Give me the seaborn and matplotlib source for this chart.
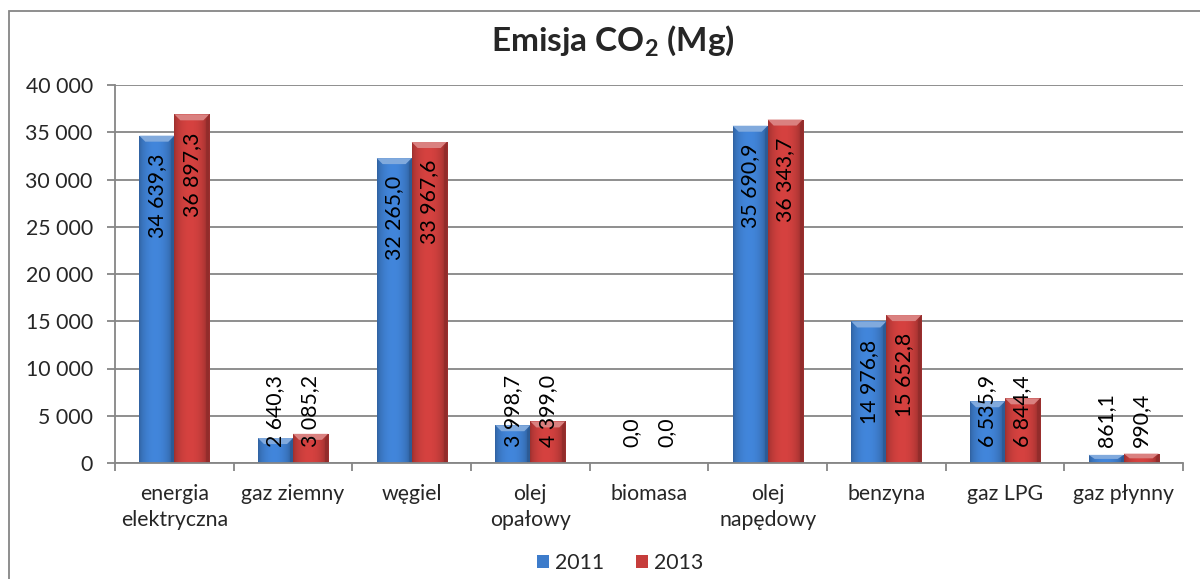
import numpy as np
import pandas as pd
import matplotlib
matplotlib.use("Agg")
import matplotlib.pyplot as plt
import seaborn as sns
from matplotlib.patches import Polygon, Rectangle
from matplotlib.ticker import FuncFormatter, MultipleLocator
from matplotlib.colors import to_rgb

categories = ["energia\nelektryczna", "gaz ziemny", "węgiel", "olej\nopałowy", "biomasa",
              "olej\nnapędowy", "benzyna", "gaz LPG", "gaz płynny"]
values_2011 = [34639.3, 2640.3, 32265.0, 3998.7, 0.0, 35690.9, 14976.8, 6535.9, 861.1]
values_2013 = [36897.3, 3085.2, 33967.6, 4399.0, 0.0, 36343.7, 15652.8, 6844.4, 990.4]
series = ["2011", "2013"]
title = "Emisja CO$_\\mathregular{2}$ (Mg)"

sns.set_theme(style="white")
plt.rcParams["font.family"] = ["Lato", "DejaVu Sans"]
plt.rcParams["mathtext.default"] = "regular"

df = pd.DataFrame({
    "kategoria": categories * 2,
    "wartosc": values_2011 + values_2013,
    "rok": [series[0]] * len(categories) + [series[1]] * len(categories),
})

colors = {"2011": "#3D7CCB", "2013": "#C63D3B"}
grey = "#868686"
FS = 15.3

fig = plt.figure(figsize=(12, 5.79), dpi=100)
ax = fig.add_axes([115 / 1200, 1 - 463 / 579, (1183 - 115) / 1200, (463 - 85) / 579])

sns.barplot(data=df, x="kategoria", y="wartosc", hue="rok", palette=colors,
            width=0.59, gap=0, ax=ax, saturation=1, edgecolor="none", linewidth=0)

ax.set_ylim(0, 40000)
ax.set_xlim(-0.5, len(categories) - 0.5)
ax.yaxis.set_major_locator(MultipleLocator(5000))
ax.yaxis.set_major_formatter(FuncFormatter(lambda v, p: f"{int(v):,}".replace(",", " ")))
ax.set_xlabel("")
ax.set_ylabel("")
ax.set_axisbelow(True)
ax.grid(axis="y", color=grey, linewidth=1.3)
ax.grid(axis="x", visible=False)
for s in ["top", "right"]:
    ax.spines[s].set_visible(False)
for s in ["left", "bottom"]:
    ax.spines[s].set_color(grey)
    ax.spines[s].set_linewidth(1.3)
ax.set_xticks(np.arange(-0.5, len(categories), 1.0), minor=True)
ax.tick_params(axis="x", which="minor", length=6, width=1.3, color=grey, direction="out", bottom=True)
ax.tick_params(axis="x", which="major", length=0, pad=15, labelsize=FS)
ax.tick_params(axis="y", which="major", length=6, width=1.3, color=grey, direction="out",
               left=True, pad=10, labelsize=FS)
for lab in ax.get_xticklabels():
    lab.set_linespacing(1.4)
    lab.set_verticalalignment("top")

# legend
handles, labels = ax.get_legend_handles_labels()
if ax.get_legend() is not None:
    ax.get_legend().remove()
fig.legend(handles, labels, loc="center", bbox_to_anchor=(620 / 1200, 1 - 563 / 579),
           ncol=2, frameon=False, fontsize=FS, handlelength=0.55, handleheight=0.55,
           handletextpad=0.3, columnspacing=1.5)

# title
fig.text(613 / 1200, 1 - 41 / 579, title, ha="center", va="center",
         fontsize=24, fontweight="bold")

# chart border
fig.patches.append(Rectangle((9 / 1200, -0.05), 1.1, 1 - 11 / 579 + 0.05,
                             transform=fig.transFigure, fill=False,
                             edgecolor=grey, linewidth=1.3, clip_on=False))

# bevel shading for bars
fig.canvas.draw()
inv = ax.transData.inverted()
def px_to_data(dx, dy):
    p0 = inv.transform((0, 0))
    p1 = inv.transform((dx, dy))
    return p1[0] - p0[0], p1[1] - p0[1]

bdx, bdy = px_to_data(6, 6)
t = np.linspace(0, 1, 64)
shade = 0.78 + 0.30 * np.sin(np.pi * np.clip(t * 1.1, 0, 1)) ** 0.6
for container, key in zip(ax.containers, series):
    base = np.array(to_rgb(colors[key]))
    grad = np.clip(base[None, :] * shade[:, None], 0, 1)[None, :, :]
    light = np.clip(base + (1 - base) * 0.35, 0, 1)
    dark = base * 0.7
    for bar in container:
        h = bar.get_height()
        if h <= 0:
            continue
        x, w = bar.get_x(), bar.get_width()
        im = ax.imshow(grad, extent=[x, x + w, 0, h], aspect="auto", zorder=2.1,
                       interpolation="bilinear")
        im.set_clip_path(bar)
        dy = min(bdy, h / 2)
        dx = min(bdx, w / 2)
        ax.add_patch(Polygon([(x, h), (x + w, h), (x + w - dx, h - dy), (x + dx, h - dy)],
                             closed=True, facecolor=light, edgecolor="none", zorder=2.2))
        ax.add_patch(Polygon([(x + w, h), (x + w, 0), (x + w - dx * 0.5, 0), (x + w - dx * 0.5, h - dy)],
                             closed=True, facecolor=dark, edgecolor="none", zorder=2.2, alpha=0.5))
ax.set_xlim(-0.5, len(categories) - 0.5)
ax.set_ylim(0, 40000)

# value labels
def fmt(v):
    s = f"{v:,.1f}"
    return s.replace(",", " ").replace(".", ",")

fig.canvas.draw()
renderer = fig.canvas.get_renderer()
axis_y = ax.transData.transform((0, 0))[1]
for container, vals in zip(ax.containers, [values_2011, values_2013]):
    for bar, v in zip(container, vals):
        cx = bar.get_x() + bar.get_width() / 2
        txt = ax.annotate(fmt(v), xy=(cx, v), xytext=(0, -18), textcoords="offset pixels",
                          rotation=90, ha="center", va="top", fontsize=FS, color="black",
                          zorder=5)
        ext = txt.get_window_extent(renderer)
        if ext.y0 < axis_y + 16:
            txt.remove()
            ax.annotate(fmt(v), xy=(cx, 0), xytext=(0, 16), textcoords="offset pixels",
                        rotation=90, ha="center", va="bottom", fontsize=FS, color="black",
                        zorder=5)

fig.savefig("out.png", dpi=100)
